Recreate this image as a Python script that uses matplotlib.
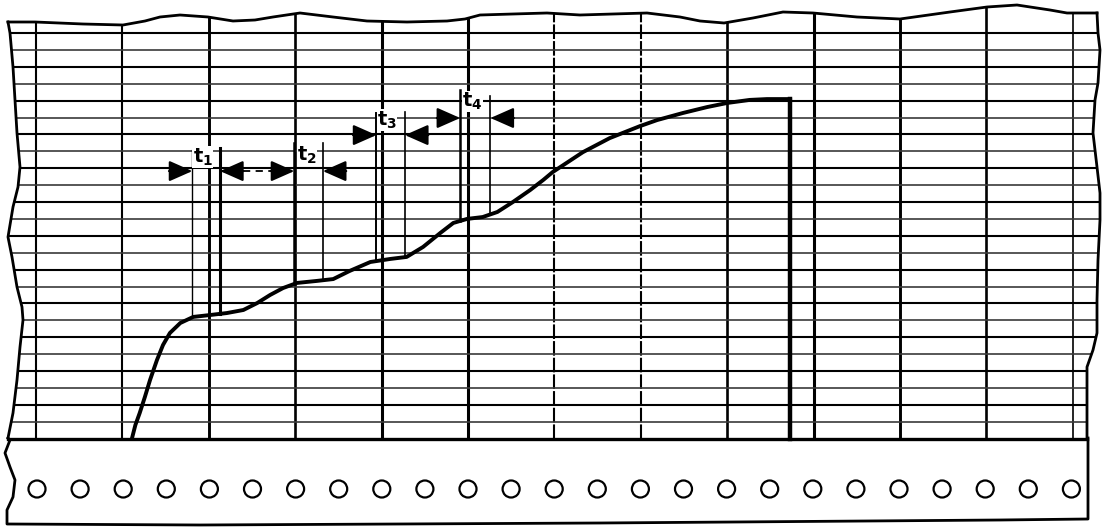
import matplotlib.pyplot as plt
import numpy as np

# chart units: x = time divisions (major verticals), y = rows (horizontal lines)
time_lines = np.arange(0, 13)
row_lines = np.arange(0, 25)

curve_t = [1.11, 1.15, 1.20, 1.26, 1.32, 1.40, 1.47, 1.55, 1.67, 1.82, 2.01,
           2.21, 2.40, 2.56, 2.71, 2.86, 3.02, 3.25, 3.44, 3.63, 3.87, 4.10,
           4.29, 4.48, 4.68, 4.83, 4.99, 5.17, 5.34, 5.52, 5.72, 5.87, 5.98,
           6.33, 6.64, 6.99, 7.19, 7.49, 7.77, 8.00, 8.26, 8.46, 8.73]
curve_v = [0.00, 0.80, 1.51, 2.46, 3.47, 4.65, 5.54, 6.25, 6.84, 7.20, 7.31,
           7.43, 7.61, 8.02, 8.50, 8.91, 9.21, 9.33, 9.44, 9.92, 10.45, 10.63,
           10.75, 11.34, 12.17, 12.76, 13.00, 13.11, 13.41, 14.00, 14.71, 15.30,
           15.77, 16.95, 17.78, 18.49, 18.85, 19.27, 19.62, 19.86, 20.04, 20.09,
           20.09]
drop_t = 8.73

labels = ['1', '2', '3', '4']
mark_left = [1.81, 2.99, 3.94, 4.91]
mark_right = [2.13, 3.32, 4.27, 5.26]
top_left = [17.08, 17.49, 19.26, 20.60]
top_right = [17.20, 17.49, 19.33, 20.30]
arrow_v = [15.83, 15.83, 17.96, 18.97]
label_t = [1.93, 3.14, 4.06, 5.05]
label_v = [16.65, 16.75, 18.85, 19.95]

# paper outline, traced in pixels of the scan
X0, DX, Y0, DY = 36.0, 86.4, 438.6, 16.9


def tx(x):
    return (np.asarray(x, float) - X0) / DX


def vy(y):
    return (Y0 - np.asarray(y, float)) / DY


top_edge = [(8, 22), (35, 22), (83, 24), (123, 25), (145, 21), (160, 17), (180, 15),
            (208, 17), (233, 21), (255, 20), (273, 17), (300, 13), (333, 17), (367, 21),
            (407, 22), (447, 21), (465, 19), (480, 15), (513, 14), (547, 13), (580, 15),
            (613, 14), (647, 13), (680, 17), (700, 21), (724, 23), (753, 18), (783, 12),
            (813, 13), (857, 17), (900, 19), (950, 12), (987, 7), (1017, 5), (1050, 10),
            (1067, 13), (1097, 13)]
right_edge = [(1097, 13), (1098, 33), (1100, 50), (1098, 83), (1095, 100), (1093, 133),
              (1097, 167), (1100, 193), (1100, 220), (1098, 260), (1097, 300), (1097, 333),
              (1093, 350), (1087, 367), (1087, 438)]
left_edge = [(8, 22), (10, 33), (13, 67), (15, 100), (17, 133), (20, 167), (18, 187),
             (13, 207), (8, 237), (12, 257), (17, 287), (22, 307), (23, 320), (20, 347),
             (17, 380), (13, 413), (8, 438)]
strip_edge = [(8, 438), (10, 440), (5, 453), (10, 467), (15, 480), (13, 497), (7, 510),
              (7, 524), (200, 525), (600, 523), (1000, 520), (1088, 519), (1088, 438)]

fig = plt.figure(figsize=(11.04, 5.31), dpi=100)
ax = fig.add_axes([0, 0, 1, 1])
ax.set_xlim(tx(0), tx(1104))
ax.set_ylim(vy(531), vy(0))
ax.axis('off')

clip_pts = top_edge + right_edge + left_edge[::-1]
clip_xy = np.column_stack([tx([p[0] for p in clip_pts]), vy([p[1] for p in clip_pts])])
clip = plt.Polygon(clip_xy, closed=True, facecolor='none', edgecolor='none')
ax.add_patch(clip)

# grid
v_widths = [1.5, 1.5, 2.1, 1.9, 2.2, 2.2, 1.5, 1.5, 1.9, 2.2, 2.1, 1.9, 1.2]
v_styles = ['-', '-', '-', '-', '-', '-', (0, (7, 1)), (0, (7, 1)), '-', '-', '-', '-', '-']
for t, w, s in zip(time_lines, v_widths, v_styles):
    ln, = ax.plot([t, t], [0, 27], color='black', lw=w, ls=s, solid_capstyle='butt')
    ln.set_clip_path(clip)
for r in row_lines[1:]:
    col, w = ('#000000', 1.5) if r % 2 == 0 else ('#3a3a3a', 1.2)
    ln, = ax.plot([-1, 13], [r, r], color=col, lw=w)
    ln.set_clip_path(clip)
ax.plot(tx([8, 1087]), [0, 0], color='black', lw=2.4)

# paper edges
for edge in (top_edge, right_edge, left_edge, strip_edge):
    ax.plot(tx([p[0] for p in edge]), vy([p[1] for p in edge]), color='black', lw=2.0,
            solid_joinstyle='round')

# perforation holes
hole_x = 37 + 43.1 * np.arange(25)
ax.scatter(tx(hole_x), np.full(25, vy(489)), s=150, facecolors='none',
           edgecolors='black', linewidths=1.6, zorder=3)

# recorded curve
ax.plot(curve_t, curve_v, color='black', lw=2.8, solid_capstyle='round', zorder=4)
ax.plot([drop_t, drop_t], [0, curve_v[-1]], color='black', lw=3.2, zorder=4)

# interval markers
left_w = [1.0, 1.8, 1.4, 1.8]
right_w = [2.2, 1.2, 1.2, 1.2]
alen = 0.27
aprops = dict(arrowstyle='-|>,head_length=0.95,head_width=0.42', color='black',
              lw=1.6, mutation_scale=15, shrinkA=0, shrinkB=0)
for i in range(4):
    lb = np.interp(mark_left[i], curve_t, curve_v)
    rb = np.interp(mark_right[i], curve_t, curve_v)
    ax.plot([mark_left[i]] * 2, [lb, top_left[i]], color='black', lw=left_w[i], zorder=4)
    ax.plot([mark_right[i]] * 2, [rb, top_right[i]], color='black', lw=right_w[i], zorder=4)
    ax.annotate('', xy=(mark_left[i], arrow_v[i]), xytext=(mark_left[i] - alen, arrow_v[i]),
                arrowprops=aprops, zorder=5)
    ax.annotate('', xy=(mark_right[i], arrow_v[i]), xytext=(mark_right[i] + alen, arrow_v[i]),
                arrowprops=aprops, zorder=5)
    ax.text(label_t[i], label_v[i], r'$\mathbf{t_{%s}}$' % labels[i], fontsize=14,
            ha='center', va='center', zorder=6,
            bbox=dict(facecolor='white', edgecolor='none', pad=0.1))
ax.plot([mark_right[0] + alen, mark_left[1] - alen], [arrow_v[0]] * 2, color='black',
        lw=1.3, ls=(0, (4, 3)), zorder=4)

fig.savefig('out.png', dpi=100, facecolor='white')
